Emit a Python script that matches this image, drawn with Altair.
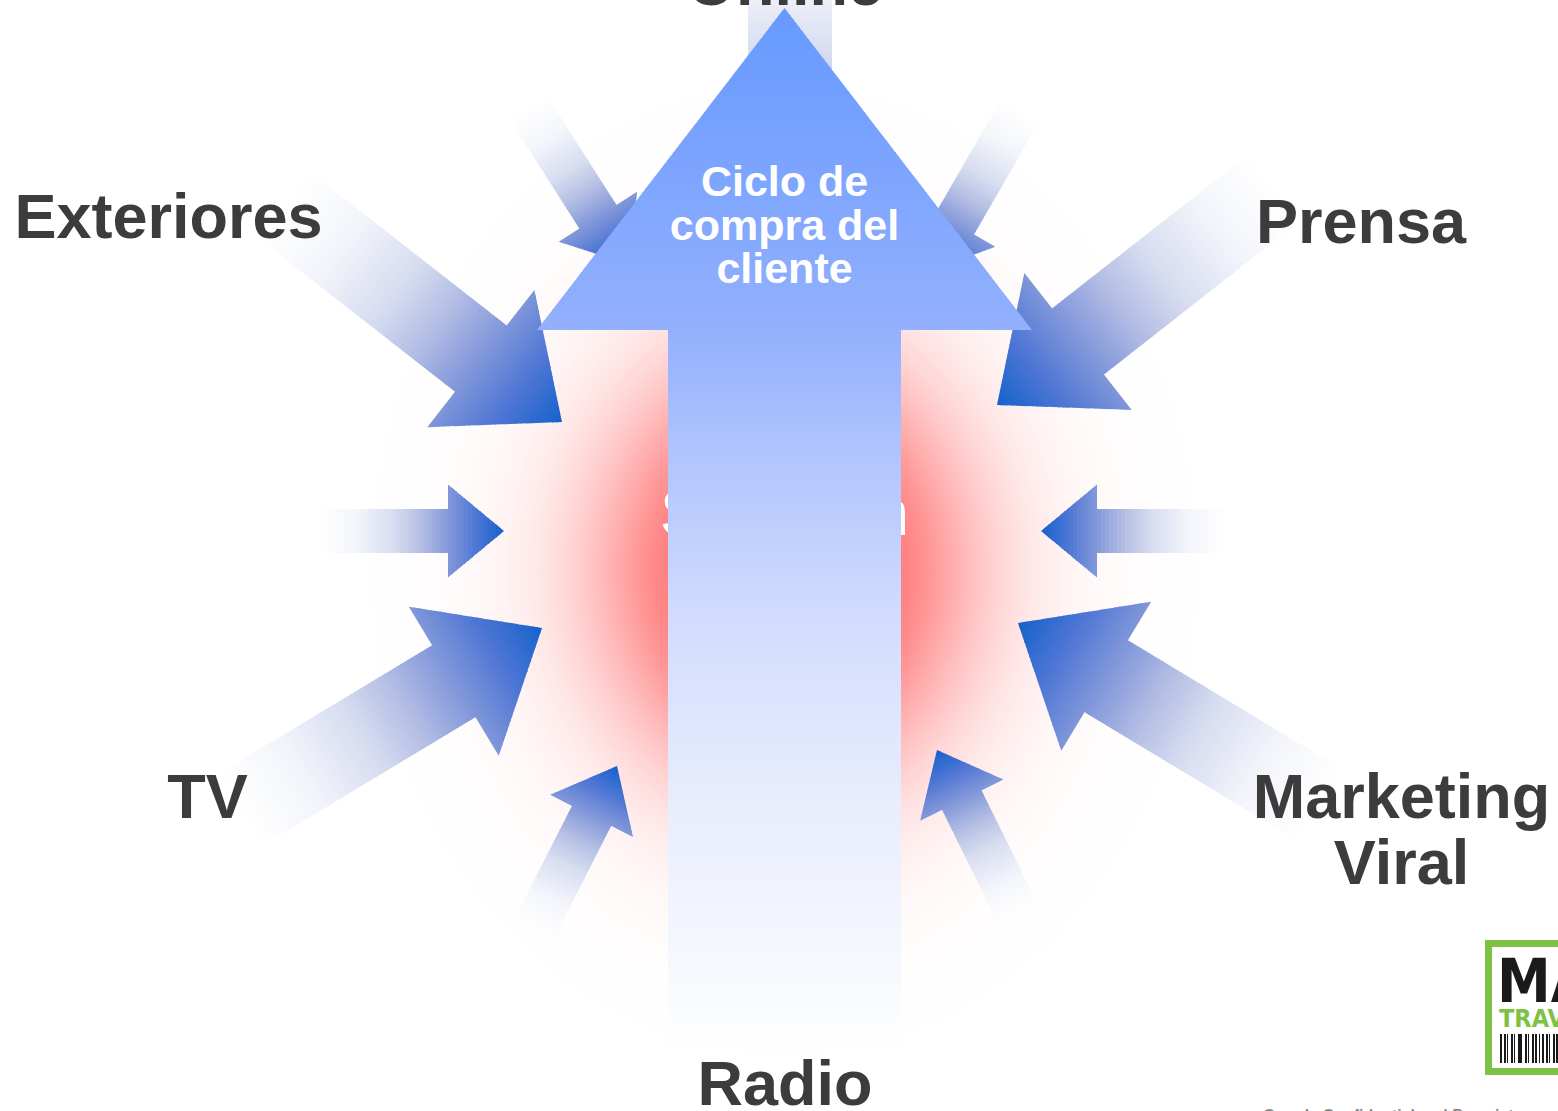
import math
import altair as alt
import pandas as pd

W, H = 1558, 1111

# ---- incoming media arrows -------------------------------------------------
# tip position, pointing angle (degrees, screen coords) and size class
ARROW_TIP_X = [790, 562, 997, 542, 1018, 504, 1041, 617, 937, 628, 927]
ARROW_TIP_Y = [265, 422, 405, 628, 623, 531, 531, 766, 750, 264, 272]
ARROW_ANGLE = [90.0, 38.0, 141.9, -31.1, -148.9, 0.0, 180.0, -63.0, -116.3, 57.5, 120.0]
ARROW_SIZE = ["big", "big", "big", "big", "big", "small", "small", "small", "small", "small", "small"]

SHAFT_LEN = {"big": 250, "small": 128}
HEAD_LEN = {"big": 103, "small": 56}
HEAD_W = {"big": 174, "small": 93}
SHAFT_W = {"big": 84, "small": 44}

# colour ramp from the faded tail (0) to the tip (1)
ARROW_STOP_U = [0.0, 0.2, 0.4, 0.55, 0.708, 0.85, 1.0]
ARROW_STOP_C = ["#ffffff", "#f3f5fb", "#d7ddf0", "#b4bee4", "#8096da", "#4e76d4", "#1462cd"]

# ---- central "purchase cycle" arrow -----------------------------------------
MAIN_X = 784.5
MAIN_TIP_Y = 8
MAIN_BASE_Y = 330
MAIN_END_Y = 1050
MAIN_HEAD_HALF = 247.5
MAIN_SHAFT_HALF = 116.5
MAIN_STOP_Y = [8, 330, 440, 620, 800, 950, 1050]
MAIN_STOP_C = ["#6699ff", "#93b0fd", "#adc2fd", "#d2dcfd", "#e8edfd", "#f5f7fe", "#ffffff"]

# ---- red glow around the shaft ---------------------------------------------
GLOW_CX, GLOW_CY = 784.5, 570
GLOW_ASPECT = 0.85
GLOW_PEAK = 125
GLOW_CORE = 116
GLOW_SCALE = 95
GLOW_POWER = 1.5

# ---- text ------------------------------------------------------------------
LABELS = ["Online", "Exteriores", "Prensa", "TV", "Marketing", "Viral", "Radio"]
LABEL_X = [785, 168.5, 1361, 207.5, 1401.5, 1401.5, 785]
LABEL_Y = [5, 238, 243, 818, 818, 884, 1105]

TITLE_LINES = ["Ciclo de", "compra del", "cliente"]
TITLE_X = [784.5, 784.5, 784.5]
TITLE_Y = [196, 240, 283]

CENTER_WORD = ["Solución"]
CENTER_X = [784.5]
CENTER_Y = [535]

FOOTER = ["Google Confidential and Proprietary"]
FOOTER_X = [1263]
FOOTER_Y = [1121]

# ---- logo ------------------------------------------------------------------
LOGO_BOX = [1488.5, 943.5, 1600, 1071.5]
LOGO_WORDS = ["MA", "TRAV"]
LOGO_WORD_X = [1497, 1499]
LOGO_WORD_Y = [1002, 1027]
BAR_X = [1500, 1504, 1507, 1511, 1514, 1518, 1521, 1525, 1528, 1532, 1535, 1539, 1542, 1546, 1549, 1553, 1556]
BAR_W = [2, 2, 1, 2, 1, 3, 1, 2, 1, 2, 2, 1, 2, 2, 1, 2, 2]
BAR_TOP, BAR_BOTTOM = 1034, 1063


def hex_rgb(h):
    h = h.lstrip("#")
    return [int(h[i:i + 2], 16) for i in (0, 2, 4)]


def rgb_hex(c):
    return "#" + "".join(f"{max(0, min(255, int(round(v)))):02x}" for v in c)


def ramp(stops_u, stops_c, u):
    u = min(max(u, stops_u[0]), stops_u[-1])
    for i in range(len(stops_u) - 1):
        if u <= stops_u[i + 1]:
            t = (u - stops_u[i]) / (stops_u[i + 1] - stops_u[i])
            a, b = hex_rgb(stops_c[i]), hex_rgb(stops_c[i + 1])
            return rgb_hex([a[k] + t * (b[k] - a[k]) for k in range(3)])
    return stops_c[-1]


def feature(ring, color):
    ring = [[round(x, 2), round(y, 2)] for x, y in ring]
    ring.append(ring[0])
    return {"type": "Feature", "properties": {"c": color},
            "geometry": {"type": "Polygon", "coordinates": [ring]}}


def arrow_slices(tip_x, tip_y, dx, dy, ls, lh, shaft_half, head_half, color_at, n_shaft, n_head):
    """Cut an arrow into thin cross-sections so the fill can follow its axis."""
    total = ls + lh
    tx, ty = tip_x - total * dx, tip_y - total * dy
    nx, ny = -dy, dx

    def pt(s, w):
        return (tx + s * dx + w * nx, ty + s * dy + w * ny)

    def half(s):
        if s < ls:
            return shaft_half
        return max(0.0, head_half * (1 - (s - ls) / lh))

    cuts = [ls * i / n_shaft for i in range(n_shaft)] + [ls + lh * j / n_head for j in range(n_head + 1)]
    feats = []
    for a, b in zip(cuts[:-1], cuts[1:]):
        be = min(b + 0.8, total)
        if a < ls:
            wa = wb = shaft_half
        else:
            wa, wb = half(a), half(be)
        ring = [pt(a, -wa), pt(be, -wb), pt(be, wb), pt(a, wa)]
        feats.append(feature(ring, color_at((a + b) / 2, total)))
    return feats


# incoming arrows
arrow_feats = []
for x, y, ang, size in zip(ARROW_TIP_X, ARROW_TIP_Y, ARROW_ANGLE, ARROW_SIZE):
    r = math.radians(ang)
    arrow_feats += arrow_slices(
        x, y, math.cos(r), math.sin(r),
        SHAFT_LEN[size], HEAD_LEN[size], SHAFT_W[size] / 2, HEAD_W[size] / 2,
        lambda s, tot: ramp(ARROW_STOP_U, ARROW_STOP_C, s / tot),
        60 if size == "big" else 32, 26 if size == "big" else 14,
    )

# central arrow, coloured by height
main_feats = arrow_slices(
    MAIN_X, MAIN_TIP_Y, 0.0, -1.0,
    MAIN_END_Y - MAIN_BASE_Y, MAIN_BASE_Y - MAIN_TIP_Y, MAIN_SHAFT_HALF, MAIN_HEAD_HALF,
    lambda s, tot: ramp(MAIN_STOP_Y, MAIN_STOP_C, MAIN_END_Y - s),
    150, 80,
)


def glow_strength(r):
    if r <= GLOW_CORE:
        return GLOW_PEAK
    return GLOW_PEAK * math.exp(-((r - GLOW_CORE) / GLOW_SCALE) ** GLOW_POWER)


# glow: nested ellipses from the outside in
glow_feats = []
r = 440.0
while r > 100:
    inten = glow_strength(r)
    ring = [(GLOW_CX + r * math.cos(2 * math.pi * k / 90),
             GLOW_CY + r / GLOW_ASPECT * math.sin(2 * math.pi * k / 90)) for k in range(90)]
    glow_feats.append(feature(ring, rgb_hex([255, 255 - inten, 255 - inten])))
    r -= 2.0

# logo pieces
bx0, by0, bx1, by1 = LOGO_BOX
box_feats = [feature([(bx0, by0), (bx1, by0), (bx1, by1), (bx0, by1)], "#ffffff")]
bar_feats = [feature([(x, BAR_TOP), (x + w, BAR_TOP), (x + w, BAR_BOTTOM), (x, BAR_BOTTOM)], "#1a1a1a")
             for x, w in zip(BAR_X, BAR_W)]


def shapes(feats):
    return alt.Chart(alt.Data(values=feats)).mark_geoshape(strokeWidth=0).encode(
        fill=alt.Fill("properties.c:N", scale=None)
    )


def texts(words, xs, ys, **style):
    df = pd.DataFrame({"t": words, "x": xs, "y": ys})
    return alt.Chart(df).mark_text(baseline="alphabetic", **style).encode(
        longitude="x:Q", latitude="y:Q", text="t:N"
    )


SANS = "Liberation Sans, Arial, sans-serif"
NARROW = "Liberation Sans Narrow, DejaVu Sans Condensed, sans-serif"

glow = shapes(glow_feats)
center_word = texts(CENTER_WORD, CENTER_X, CENTER_Y, font=SANS, fontSize=65, color="#ffffff", align="center")
arrows = shapes(arrow_feats)
main_arrow = shapes(main_feats)
title = texts(TITLE_LINES, TITLE_X, TITLE_Y, font=SANS, fontSize=43, fontWeight="bold",
              color="#ffffff", align="center")
labels = texts(LABELS, LABEL_X, LABEL_Y, font=SANS, fontSize=63, fontWeight="bold",
               color="#3c3c3c", align="center")
logo_box = alt.Chart(alt.Data(values=box_feats)).mark_geoshape(
    fill="#ffffff", stroke="#7dc242", strokeWidth=7
)
logo_bars = shapes(bar_feats)
logo_ma = texts(LOGO_WORDS[:1], LOGO_WORD_X[:1], LOGO_WORD_Y[:1], font=NARROW, fontSize=60,
                fontWeight="bold", color="#1a1a1a", align="left")
logo_trav = texts(LOGO_WORDS[1:], LOGO_WORD_X[1:], LOGO_WORD_Y[1:], font=NARROW, fontSize=25,
                  fontWeight="bold", color="#7dc242", align="left")
footer = texts(FOOTER, FOOTER_X, FOOTER_Y, font=SANS, fontSize=16, fontWeight="bold",
               color="#8c8c8c", align="left")

chart = alt.layer(
    glow, center_word, arrows, main_arrow, title, labels,
    logo_box, logo_bars, logo_ma, logo_trav, footer,
).project(
    type="identity", scale=1, translate=[0, 0]
).properties(
    width=W, height=H, padding=0, background="#ffffff",
    autosize=alt.AutoSizeParams(type="none"),
).configure_view(strokeWidth=0)

chart.save("out.html", embed_options={"renderer": "svg", "actions": False})
